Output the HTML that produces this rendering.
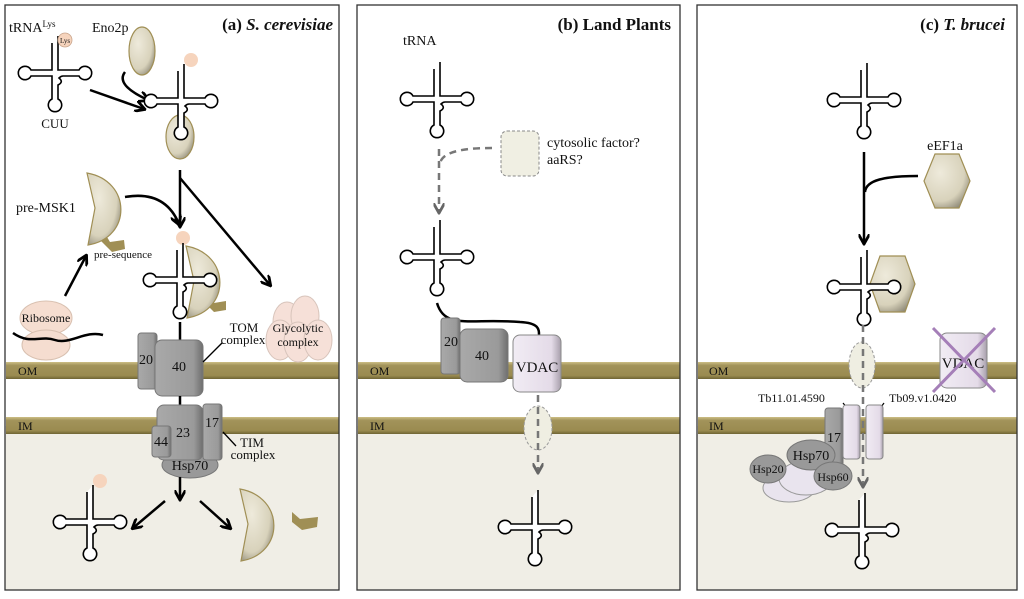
<!DOCTYPE html>
<html><head><meta charset="utf-8"><style>
html,body{margin:0;padding:0;background:#fff}
svg{display:block}
text{font-family:"Liberation Serif",serif;fill:#111}
</style></head><body>
<svg width="1024" height="599" viewBox="0 0 1024 599" xmlns="http://www.w3.org/2000/svg">
<defs>
<linearGradient id="mem" x1="0" y1="0" x2="0" y2="1">
<stop offset="0" stop-color="#cdbf86"/><stop offset="0.2" stop-color="#a2935a"/><stop offset="0.8" stop-color="#9a8b50"/><stop offset="1" stop-color="#6f6434"/></linearGradient>
<radialGradient id="tan" cx="0.35" cy="0.35" r="0.75"><stop offset="0" stop-color="#eeeadb"/><stop offset="0.7" stop-color="#d8d2bb"/><stop offset="1" stop-color="#8f8a78"/></radialGradient>
<linearGradient id="grey" x1="0" y1="0" x2="1" y2="0"><stop offset="0" stop-color="#a9a9a9"/><stop offset="0.8" stop-color="#9a9a9a"/><stop offset="1" stop-color="#6e6e6e"/></linearGradient>
<linearGradient id="lav" x1="0" y1="0" x2="1" y2="0"><stop offset="0" stop-color="#f1ecf4"/><stop offset="0.8" stop-color="#e4dbe8"/><stop offset="1" stop-color="#a79fab"/></linearGradient>
<marker id="ah" viewBox="0 0 10 10" refX="8" refY="5" markerWidth="4.5" markerHeight="4.5" orient="auto"><path d="M0,0 L9,5 L0,10" fill="none" stroke="#000" stroke-width="2.5"/></marker>
<marker id="ahg" viewBox="0 0 10 10" refX="8" refY="5" markerWidth="4.5" markerHeight="4.5" orient="auto"><path d="M0,0 L9,5 L0,10" fill="none" stroke="#666" stroke-width="2.5"/></marker>
<g id="trna">
<path d="M-3,-30 V-3 H-24 A6.7,6.7 0 1 0 -24,3 H-3 V26 A6.7,6.7 0 1 0 3,26 V12 Q9,9 4,5 Q6,3 8,3 H24 A6.7,6.7 0 1 0 24,-3 H3 V-37" fill="#fff" stroke="#000" stroke-width="1.6"/>
</g>
<g id="cres"><path d="M0,0 C45,8 45,65 1,72 L8,35 Z" fill="url(#tan)" stroke="#a08f55" stroke-width="1.2"/></g>
</defs>

<g>
<rect x="5" y="5" width="334" height="585" fill="#fff"/>
<rect x="5" y="426" width="334" height="164" fill="#f0eee6"/>
<rect x="357" y="5" width="323" height="585" fill="#fff"/>
<rect x="357" y="426" width="323" height="164" fill="#f0eee6"/>
<rect x="697" y="5" width="320" height="585" fill="#fff"/>
<rect x="697" y="426" width="320" height="164" fill="#f0eee6"/>
</g>
<g>
<rect x="6" y="362" width="333" height="17" fill="url(#mem)"/>
<rect x="6" y="417" width="333" height="17" fill="url(#mem)"/>
<rect x="358" y="362" width="322" height="17" fill="url(#mem)"/>
<rect x="358" y="417" width="322" height="17" fill="url(#mem)"/>
<rect x="698" y="362" width="319" height="17" fill="url(#mem)"/>
<rect x="698" y="417" width="319" height="17" fill="url(#mem)"/>
</g>
<g font-size="12">
<text x="18" y="375">OM</text><text x="18" y="430">IM</text>
<text x="370" y="375">OM</text><text x="370" y="430">IM</text>
<text x="709" y="375">OM</text><text x="709" y="430">IM</text>
</g>
<g fill="none" stroke="#333" stroke-width="1.3">
<rect x="5" y="5" width="334" height="585"/>
<rect x="357" y="5" width="323" height="585"/>
<rect x="697" y="5" width="320" height="585"/>
</g>

<!-- ===== Panel A ===== -->
<text x="333" y="30" font-size="17" font-weight="bold" text-anchor="end">(a) <tspan font-style="italic">S. cerevisiae</tspan></text>
<text x="9" y="32" font-size="14">tRNA<tspan font-size="9" dy="-5">Lys</tspan></text>
<text x="92" y="32" font-size="14">Eno2p</text>
<use href="#trna" x="55" y="73"/>
<circle cx="65" cy="40" r="7" fill="#f6d4bd" stroke="#c9a58c" stroke-width="0.8"/>
<text x="65" y="43" font-size="7" text-anchor="middle">Lys</text>
<text x="55" y="128" font-size="13" text-anchor="middle">CUU</text>
<ellipse cx="142" cy="51" rx="13" ry="24" fill="url(#tan)" stroke="#a08f55" stroke-width="1.2"/>
<path d="M125,72 Q115,85 148,100" fill="none" stroke="#000" stroke-width="2.5" marker-end="url(#ah)"/>
<line x1="90" y1="90" x2="144" y2="109" stroke="#000" stroke-width="2.5" marker-end="url(#ah)"/>
<ellipse cx="180" cy="137" rx="14" ry="22" fill="url(#tan)" stroke="#a08f55" stroke-width="1.2"/>
<use href="#trna" x="181" y="101"/>
<circle cx="191" cy="60" r="7" fill="#f6d4bd"/>
<line x1="180" y1="170" x2="180" y2="226" stroke="#000" stroke-width="2.5" marker-end="url(#ah)"/>
<line x1="180" y1="178" x2="270" y2="285" stroke="#000" stroke-width="2.5" marker-end="url(#ah)"/>
<text x="16" y="212" font-size="14">pre-MSK1</text>
<path d="M104,232 L110,242 L124,240 L125,249 L112,252 L100,240 Z" fill="#a08f55"/>
<use href="#cres" x="87" y="173"/>
<path d="M125,197 Q165,190 179,224" fill="none" stroke="#000" stroke-width="2.5" marker-end="url(#ah)"/>
<line x1="65" y1="296" x2="86" y2="256" stroke="#000" stroke-width="2.5" marker-end="url(#ah)"/>
<text x="94" y="258" font-size="11">pre-sequence</text>
<circle cx="183" cy="238" r="7" fill="#f6d4bd"/>
<path d="M208,295 L214,303 L226,301 L226,310 L214,312 L204,302 Z" fill="#a08f55"/>
<use href="#cres" x="186" y="246"/>
<use href="#trna" x="180" y="280"/>
<ellipse cx="46" cy="318" rx="26" ry="17" fill="#f5ddd0" stroke="#d8c0b0"/>
<ellipse cx="46" cy="345" rx="24" ry="15" fill="#f5ddd0" stroke="#d8c0b0"/>
<text x="46" y="322" font-size="12" text-anchor="middle">Ribosome</text>
<path d="M13,333 C30,345 40,335 55,340 C70,345 85,330 103,335" fill="none" stroke="#000" stroke-width="2.5"/>
<g fill="#f6e0d8" stroke="#d8c4bb">
<ellipse cx="287" cy="322" rx="14" ry="20"/><ellipse cx="305" cy="316" rx="14" ry="20"/>
<ellipse cx="280" cy="340" rx="14" ry="20"/><ellipse cx="298" cy="342" rx="14" ry="20"/><ellipse cx="318" cy="340" rx="14" ry="20"/>
</g>
<text x="298" y="332" font-size="12" text-anchor="middle">Glycolytic</text>
<text x="298" y="346" font-size="12" text-anchor="middle">complex</text>
<line x1="180" y1="322" x2="180" y2="340" stroke="#000" stroke-width="2.5"/>
<rect x="138" y="333" width="19" height="56" rx="3" fill="url(#grey)" stroke="#777"/>
<rect x="155" y="340" width="48" height="56" rx="7" fill="url(#grey)" stroke="#777"/>
<text x="146" y="364" font-size="14" text-anchor="middle">20</text>
<text x="179" y="371" font-size="14" text-anchor="middle">40</text>
<line x1="203" y1="362" x2="222" y2="343" stroke="#000" stroke-width="1.3"/>
<text x="244" y="332" font-size="13" text-anchor="middle">TOM</text>
<text x="243" y="344" font-size="13" text-anchor="middle">complex</text>
<line x1="180" y1="396" x2="180" y2="405" stroke="#000" stroke-width="2.5"/>
<ellipse cx="190" cy="465" rx="28" ry="13" fill="#999" stroke="#777"/>
<text x="190" y="470" font-size="14" text-anchor="middle">Hsp70</text>
<rect x="203" y="404" width="19" height="56" rx="3" fill="url(#grey)" stroke="#777"/>
<rect x="157" y="405" width="46" height="55" rx="7" fill="url(#grey)" stroke="#777"/>
<rect x="152" y="426" width="19" height="31" rx="3" fill="url(#grey)" stroke="#777"/>
<text x="212" y="427" font-size="14" text-anchor="middle">17</text>
<text x="183" y="437" font-size="14" text-anchor="middle">23</text>
<text x="161" y="446" font-size="14" text-anchor="middle">44</text>
<line x1="223" y1="432" x2="236" y2="446" stroke="#000" stroke-width="1.3"/>
<text x="252" y="447" font-size="13" text-anchor="middle">TIM</text>
<text x="253" y="459" font-size="13" text-anchor="middle">complex</text>
<line x1="180" y1="477" x2="180" y2="499" stroke="#000" stroke-width="2.5" marker-end="url(#ah)"/>
<line x1="165" y1="501" x2="133" y2="528" stroke="#000" stroke-width="2.5" marker-end="url(#ah)"/>
<line x1="200" y1="501" x2="230" y2="528" stroke="#000" stroke-width="2.5" marker-end="url(#ah)"/>
<circle cx="100" cy="481" r="7" fill="#f6d4bd"/>
<use href="#trna" x="90" y="522"/>
<use href="#cres" x="240" y="489"/>
<path d="M292,512 L300,519 L318,517 L317,527 L302,530 L292,522 Z" fill="#a08f55"/>

<!-- ===== Panel B ===== -->
<text x="671" y="30" font-size="17" font-weight="bold" text-anchor="end">(b) Land Plants</text>
<text x="403" y="45" font-size="14">tRNA</text>
<use href="#trna" x="437" y="99"/>
<rect x="501" y="131" width="38" height="45" rx="6" fill="#f0efe3" stroke="#888" stroke-dasharray="3,2"/>
<text x="547" y="147" font-size="14">cytosolic factor?</text>
<text x="547" y="164" font-size="14">aaRS?</text>
<path d="M492,148 C470,148 440,150 440,165" fill="none" stroke="#777" stroke-width="2.5" stroke-dasharray="7,5"/>
<line x1="439" y1="149" x2="439" y2="212" stroke="#777" stroke-width="2.5" stroke-dasharray="7,5" marker-end="url(#ahg)"/>
<use href="#trna" x="437" y="257"/>
<path d="M437,303 C445,330 470,318 520,322 C540,323 539,330 539,336" fill="none" stroke="#000" stroke-width="2.5"/>
<rect x="441" y="318" width="19" height="56" rx="3" fill="url(#grey)" stroke="#777"/>
<rect x="460" y="329" width="48" height="53" rx="7" fill="url(#grey)" stroke="#777"/>
<text x="451" y="346" font-size="14" text-anchor="middle">20</text>
<text x="482" y="360" font-size="14" text-anchor="middle">40</text>
<rect x="513" y="335" width="48" height="57" rx="7" fill="url(#lav)" stroke="#888"/>
<text x="537" y="372" font-size="15" text-anchor="middle">VDAC</text>
<ellipse cx="538" cy="428" rx="14" ry="22" fill="#efeee2" stroke="#999" stroke-dasharray="3,2"/>
<line x1="538" y1="395" x2="538" y2="472" stroke="#777" stroke-width="2.5" stroke-dasharray="7,5" marker-end="url(#ahg)"/>
<use href="#trna" x="535" y="527"/>

<!-- ===== Panel C ===== -->
<text x="1005" y="30" font-size="17" font-weight="bold" text-anchor="end">(c) <tspan font-style="italic">T. brucei</tspan></text>
<use href="#trna" x="864" y="100"/>
<text x="945" y="150" font-size="14" text-anchor="middle">eEF1a</text>
<polygon points="924,181 935,154 959,154 970,181 959,208 935,208" fill="url(#tan)" stroke="#a08f55" stroke-width="1.2"/>
<path d="M918,176 C885,176 866,180 865,192" fill="none" stroke="#000" stroke-width="2.5"/>
<line x1="864" y1="152" x2="864" y2="243" stroke="#000" stroke-width="2.5" marker-end="url(#ah)"/>
<polygon points="870,284 880,256 905,256 915,284 905,312 880,312" fill="url(#tan)" stroke="#a08f55" stroke-width="1.2"/>
<use href="#trna" x="864" y="287"/>
<ellipse cx="862" cy="365" rx="13" ry="23" fill="#efeee2" stroke="#999" stroke-dasharray="3,2"/>
<rect x="940" y="333" width="47" height="55" rx="7" fill="url(#lav)" stroke="#888"/>
<text x="963" y="368" font-size="15" text-anchor="middle">VDAC</text>
<line x1="933" y1="328" x2="995" y2="392" stroke="#a57fb8" stroke-width="3"/>
<line x1="995" y1="328" x2="933" y2="392" stroke="#a57fb8" stroke-width="3"/>
<text x="758" y="402" font-size="12">Tb11.01.4590</text>
<text x="889" y="402" font-size="12">Tb09.v1.0420</text>
<line x1="843" y1="403" x2="852" y2="414" stroke="#000" stroke-width="1.2"/>
<line x1="884" y1="403" x2="876" y2="414" stroke="#000" stroke-width="1.2"/>
<rect x="825" y="408" width="18" height="58" rx="3" fill="url(#grey)" stroke="#777"/>
<text x="834" y="442" font-size="14" text-anchor="middle">17</text>
<ellipse cx="789" cy="488" rx="26" ry="14" fill="#e9e4ee" stroke="#999"/>
<ellipse cx="806" cy="478" rx="27" ry="17" fill="#e9e4ee" stroke="#999"/>
<ellipse cx="811" cy="455" rx="24" ry="15" fill="#999" stroke="#777"/>
<ellipse cx="768" cy="469" rx="18" ry="14" fill="#999" stroke="#777"/>
<ellipse cx="833" cy="476" rx="19" ry="14" fill="#999" stroke="#777"/>
<text x="811" y="460" font-size="14" text-anchor="middle">Hsp70</text>
<text x="768" y="473" font-size="12" text-anchor="middle">Hsp20</text>
<text x="833" y="481" font-size="12" text-anchor="middle">Hsp60</text>
<rect x="843" y="405" width="17" height="54" rx="3" fill="url(#lav)" stroke="#888"/>
<rect x="866" y="405" width="17" height="54" rx="3" fill="url(#lav)" stroke="#888"/>
<line x1="863" y1="325" x2="863" y2="486" stroke="#777" stroke-width="2.5" stroke-dasharray="7,5" marker-end="url(#ahg)"/>
<use href="#trna" x="862" y="530"/>
</svg>
</body></html>
